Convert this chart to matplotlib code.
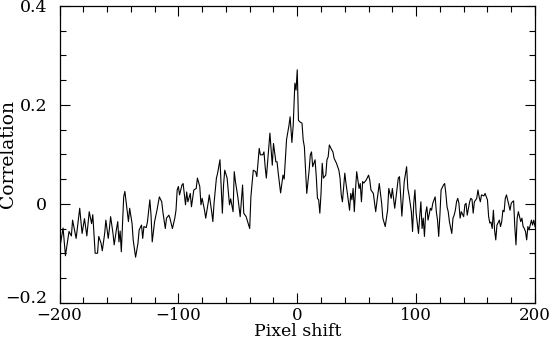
import matplotlib
matplotlib.use("Agg")
import matplotlib.pyplot as plt
import matplotlib.transforms as mtransforms
from matplotlib.ticker import MultipleLocator

# Pixel shift values
shift = [
    -200, -197, -195, -192, -190, -189, -186, -183, -181, -179, -177, -175, -173, -172,
    -170, -168, -167, -165, -164, -162, -161, -159, -158,
    -157, -155, -154, -152, -151, -150, -149, -148, -146, -145, -143, -142, -141, -139,
    -138, -136, -134, -133, -131, -130, -129, -127, -126, -124, -123, -122, -120, -118,
    -116, -114, -113, -111, -110, -108,
    -107, -105, -103, -102, -101, -100, -99, -97, -96, -94, -93, -92, -90, -89, -87, -85,
    -84, -82, -81, -80, -78, -77, -75, -74, -72, -71, -70, -68, -67, -65, -63, -62, -61,
    -59, -57, -56, -54, -53, -52, -50, -48, -46, -45, -43, -40, -39, -37, -35, -34, -32,
    -31, -29, -28, -27, -26, -25, -23, -21, -20, -18, -17, -16, -14, -12, -11, -9, -7,
    -6, -4.5, -3.4, -2, -1, 0, 1, 2, 4, 5, 6, 7, 8, 10, 11, 12, 13, 15, 16, 17, 18, 19,
    20, 21, 22, 24, 25, 26, 27, 29, 30, 31, 33, 35, 36, 37, 38, 40, 41, 42, 44, 45, 46,
    47, 48, 49, 50, 52, 53, 54, 55, 56, 58, 60, 61, 62, 64, 66, 67, 69, 71, 72, 74, 76,
    77, 79, 80, 82, 83, 85, 86, 88, 90, 92, 93, 94, 96, 97, 98, 99, 100, 102, 103, 104,
    105, 106, 107, 108, 109, 110, 112, 113, 114, 116, 117, 118, 119, 120, 121, 123, 124,
    125, 126, 127, 128, 130, 131, 132, 133, 134, 135, 136, 137, 138, 140, 141, 142, 143,
    145, 146, 147, 148, 149, 151, 152, 153, 154, 155, 156, 157, 158, 160, 161, 162, 163,
    164, 165, 166, 167, 168, 170, 171, 172, 173, 174, 175, 176, 177, 179, 180, 181, 182,
    183, 184, 185, 186, 188, 189, 190, 191, 192, 193, 194, 195, 197, 198, 199, 200,
]

# Correlation values
corr = [
    -0.093, -0.049, -0.105, -0.056, -0.065, -0.033, -0.070, -0.009, -0.060, -0.030, -0.065, -0.016, -0.040, -0.022,
    -0.100, -0.100, -0.066, -0.080, -0.095, -0.060, -0.033, -0.070, -0.050,
    -0.026, -0.060, -0.083, -0.050, -0.036, -0.077, -0.055, -0.097, 0.014, 0.025, -0.016, -0.036, -0.009, -0.039,
    -0.073, -0.108, -0.080, -0.053, -0.043, -0.070, -0.046, -0.048, -0.036, 0.008, -0.023, -0.077, -0.036, -0.013,
    0.014, 0.004, -0.017, -0.050, -0.029, -0.023,
    -0.030, -0.050, -0.029, -0.013, 0.028, 0.035, 0.018, 0.038, 0.041, -0.002, 0.024, 0.004, 0.021, -0.006, 0.028, 0.031,
    0.052, 0.035, -0.002, 0.011, -0.013, -0.029, 0.001, 0.018, -0.016, -0.036, 0.001, 0.052, 0.062, 0.089, -0.019, 0.038, 0.068,
    0.052, -0.002, 0.010, -0.016, 0.065, 0.045, 0.014, -0.026, 0.038, -0.019, -0.026, -0.050, 0.014, 0.068, 0.065, 0.055, 0.112,
    0.099, 0.099, 0.105, 0.075, 0.052, 0.082, 0.143, 0.078, 0.122, 0.085, 0.085, 0.062, 0.022, 0.058, 0.050, 0.130, 0.158,
    0.176, 0.124, 0.159, 0.244, 0.230, 0.271, 0.169, 0.166, 0.163, 0.129, 0.115, 0.068, 0.021, 0.068, 0.099, 0.105, 0.075, 0.089, 0.055, 0.011, 0.008, -0.019,
    0.021, 0.082, 0.052, 0.058, 0.089, 0.095, 0.119, 0.109, 0.105, 0.092, 0.082, 0.068, 0.052, 0.018, 0.004, 0.062, 0.041, 0.024, -0.013, 0.021, 0.008,
    0.031, -0.016, 0.028, 0.065, 0.031, 0.041, 0.004, 0.045, 0.042, 0.048, 0.058, 0.048, 0.028, 0.021, -0.016, 0.004, 0.041, 0.001, -0.029, -0.046, -0.013,
    0.031, 0.011, 0.031, -0.009, 0.011, 0.052, 0.055, -0.025, 0.045, 0.075, 0.031, 0.018, -0.016, -0.056, 0.001, 0.028, -0.019, -0.060, -0.026, 0.004,
    -0.050, -0.029, -0.066, -0.019, -0.006, -0.033, -0.009, -0.013, 0.001, 0.014, -0.016, -0.033, -0.066, -0.023, 0.028, 0.038, 0.041,
    0.021, -0.006, -0.016, -0.036, -0.060, -0.029, -0.023, -0.013, 0.004, 0.011, 0.001, -0.029, -0.016, -0.026, -0.002, 0.001, -0.023,
    0.004, 0.011, 0.009, -0.019, 0.004, 0.011, 0.028, 0.014, 0.004, 0.018, 0.017, 0.016, 0.021, 0.008, -0.026, -0.039, -0.037,
    -0.050, -0.013, -0.053, -0.073, -0.043, -0.033, -0.046, -0.036, -0.013, -0.016, 0.011, 0.018, 0.008, -0.013, 0.001, 0.004, 0.006,
    -0.046, -0.083, -0.029, -0.016, -0.036, -0.029, -0.046, -0.050, -0.056, -0.073, -0.046, -0.053, -0.033, -0.043, -0.033, -0.046,
]

x_ticks = [-200, -100, 0, 100, 200]
y_ticks = [-0.2, 0, 0.2, 0.4]
y_tick_labels = ["\u22120.2", "0", "0.2", "0.4"]
x_tick_labels = ["\u2212200", "\u2212100", "0", "100", "200"]

plt.rcParams["font.family"] = ["DejaVu Serif"]

fig = plt.figure(figsize=(5.52, 3.40), dpi=100)
ax = fig.add_axes([59.5 / 552, 1 - 302.7 / 340, (535 - 59.5) / 552, (302.7 - 6) / 340])

ax.plot(shift, corr, color="black", lw=0.8)

ax.set_xlim(-200, 200)
ax.set_ylim(-0.2, 0.4)
ax.set_xticks(x_ticks)
ax.set_xticklabels(x_tick_labels)
ax.set_yticks(y_ticks)
ax.set_yticklabels(y_tick_labels)
ax.xaxis.set_minor_locator(MultipleLocator(20))
ax.yaxis.set_minor_locator(MultipleLocator(0.05))

ax.tick_params(which="both", direction="in", top=True, right=True, width=0.8, labelsize=12.5)
ax.tick_params(axis="x", labelsize=12)
ax.tick_params(which="major", length=7)
ax.tick_params(which="minor", length=4)
ax.tick_params(axis="x", pad=3)
ax.tick_params(axis="y", pad=9)
for s in ax.spines.values():
    s.set_linewidth(0.9)

# nudge the lowest y tick label up so it clears the x tick label below it
low_label = ax.get_yticklabels()[0]
low_label.set_transform(low_label.get_transform()
                        + mtransforms.ScaledTranslation(0, 6 / 100, fig.dpi_scale_trans))

ax.set_xlabel("Pixel shift", fontsize=12.5, va="bottom")
ax.set_ylabel("Correlation", fontsize=13.5)
ax.xaxis.set_label_coords(0.5, -0.1245)
ax.yaxis.set_label_coords(-0.09, 0.5)

fig.savefig("out.png", dpi=100)
